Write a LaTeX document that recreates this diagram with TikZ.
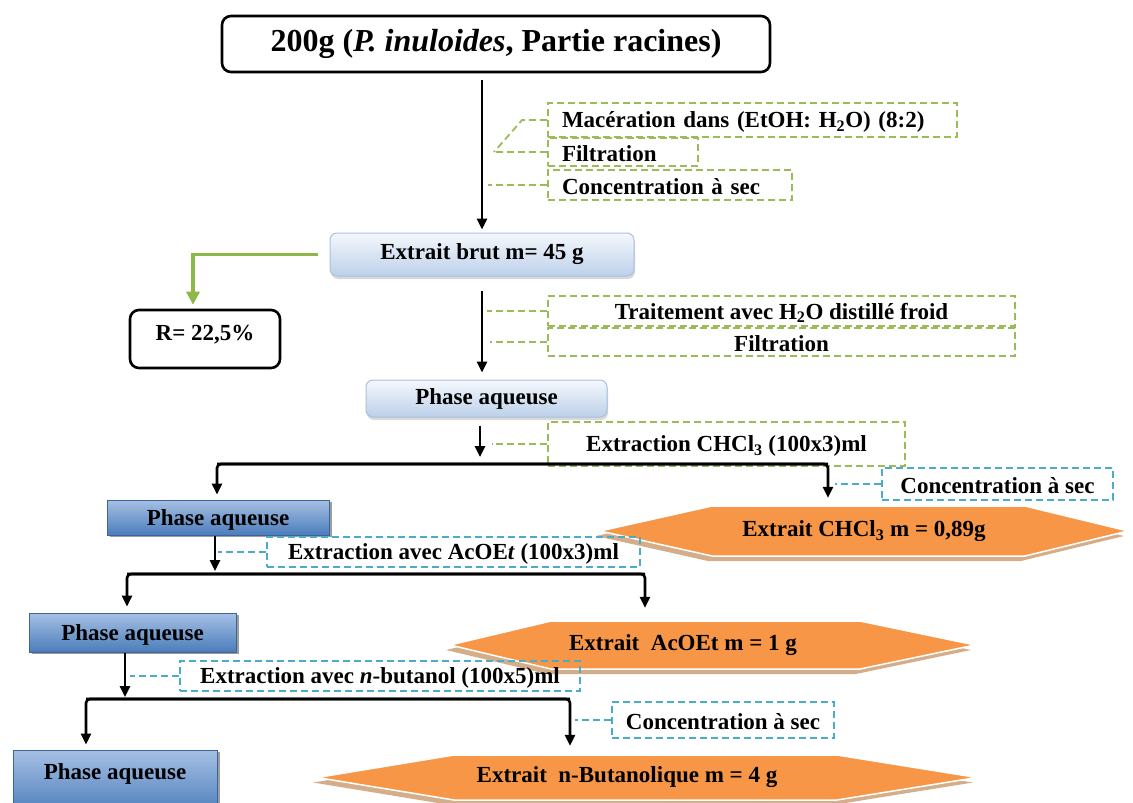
\documentclass[tikz,border=0pt]{standalone}
\usepackage{fontspec}
\setmainfont{Liberation Serif}
\usetikzlibrary{arrows.meta, positioning, shadows, calc}

\definecolor{accgreen}{HTML}{9BBB59}
\definecolor{accblue}{HTML}{4BACC6}
\definecolor{accorange}{HTML}{F79646}
\definecolor{hexshade}{HTML}{D4AE8A}
\definecolor{greenarrow}{HTML}{8DB749}
\definecolor{paleedge}{HTML}{A9C0DE}
\definecolor{paletop}{HTML}{F5F8FC}
\definecolor{palebot}{HTML}{BCD0EA}
\definecolor{deepedge}{HTML}{3B6499}
\definecolor{deeptop}{HTML}{A6C0E4}
\definecolor{deepbot}{HTML}{4B7DBB}

\newcommand{\lbl}{\fontsize{23}{25}\selectfont\bfseries}
\newcommand{\ttl}{\fontsize{32}{35}\selectfont\bfseries}
% hexagon: left tip, top left, top right, right tip, top y, height, style
\newcommand{\hexfill}[7]{\path[#7] (#1,{#5+#6/2}) -- (#2,#5) -- (#3,#5) -- (#4,{#5+#6/2}) -- (#3,{#5+#6}) -- (#2,{#5+#6}) -- cycle;}

\begin{document}
\begin{tikzpicture}[x=1pt, y=-1pt,
    arrow/.style={-{Triangle[length=11pt, width=10pt]}, line width=2.6pt},
    branch/.style={arrow, rounded corners=4pt},
    greenline/.style={-{Triangle[length=13pt, width=13pt]}, line width=3.5pt, draw=greenarrow},
    bigbox/.style={draw, line width=2.6pt, rounded corners=9pt, inner sep=0pt},
    palebox/.style={draw=paleedge, line width=1pt, rounded corners=7pt, top color=paletop, bottom color=palebot, font=\lbl, inner sep=0pt,
        drop shadow={shadow xshift=1pt, shadow yshift=-3pt, opacity=0.3}},
    deepbox/.style={draw=deepedge, line width=1pt, top color=deeptop, bottom color=deepbot, font=\lbl, inner sep=0pt, text height=21pt,
        drop shadow={shadow xshift=3pt, shadow yshift=-2pt, opacity=0.55, fill=black!70}},
    gnote/.style={draw=accgreen, line width=1.8pt, dash pattern=on 7pt off 4pt, font=\lbl, inner xsep=14pt, inner ysep=0pt, text height=20pt},
    bnote/.style={gnote, draw=accblue},
    gcall/.style={draw=accgreen, line width=1.8pt, dash pattern=on 7pt off 4pt},
    bcall/.style={gcall, draw=accblue},
    hexlbl/.style={font=\lbl, inner sep=0pt},
    hexbody/.style={fill=accorange, draw=white, line width=1.5pt},
    hexshadow/.style={fill=hexshade, shift={(-4,5)}}
]
\useasboundingbox (0,0) rectangle (1133,803);

% plant material and maceration
\node[bigbox, font=\ttl, minimum width=548pt, minimum height=56pt] (title) at (496,44) {200g (\textit{P. inuloides}, Partie racines)};
\node[gnote, text width=381pt, align=left, minimum height=34pt] (mac) at (752.5,120) {\mbox{Macération dans (EtOH: H\textsubscript{2}O) (8:2)}};
\node[gnote, text width=122pt, align=left, minimum height=28pt] (filt) at (623,152) {\mbox{Filtration}};
\node[gnote, text width=216pt, align=left, minimum height=30pt] (conc) at (670,185) {\mbox{Concentration à sec}};

\node[palebox, minimum width=304pt, minimum height=43pt] (brut) at (482,254.5) {Extrait brut m= 45 g};
\node[bigbox, font=\lbl, minimum width=150pt, minimum height=58pt, text depth=12pt] (ratio) at (205,339) {R= 22,5\%};

% water treatment
\node[gnote, minimum width=467pt, minimum height=30pt] (trait) at (781.5,311) {Traitement avec H\textsubscript{2}O distillé froid};
\node[gnote, minimum width=467pt, minimum height=28pt] (filtb) at (781.5,342) {Filtration};
\node[palebox, minimum width=241pt, minimum height=37pt] (aq1) at (486.5,398.5) {Phase aqueuse};

% liquid-liquid extractions
\node[gnote, minimum width=357pt, minimum height=44pt] (xchcl) at (726.5,444) {Extraction CHCl\textsubscript{3} (100x3)ml};
\node[bnote, minimum width=231pt, minimum height=32pt] (cchcl) at (997.5,484) {Concentration à sec};
\node[deepbox, minimum width=222pt, minimum height=35pt] (aq2) at (218,517.5) {Phase aqueuse};
\hexfill{600}{712}{1025}{1128}{506}{50}{hexshadow}
\hexfill{600}{712}{1025}{1128}{506}{50}{hexbody}
\node[hexlbl, minimum height=50pt] (hchcl) at (864,531) {Extrait CHCl\textsubscript{3} m = 0,89g};

\node[bnote, minimum width=373pt, minimum height=30pt] (xacoet) at (453.5,552) {Extraction avec AcOE\textit{t} (100x3)ml};
\node[deepbox, minimum width=207pt, minimum height=39pt] (aq3) at (132.5,632.5) {Phase aqueuse};
\hexfill{450}{551}{860}{975}{621}{48}{hexshadow}
\hexfill{450}{551}{860}{975}{621}{48}{hexbody}
\node[hexlbl, minimum height=48pt] (hacoet) at (683,645) {Extrait\ \ AcOEt m = 1 g};

\node[bnote, minimum width=400pt, minimum height=30pt] (xbut) at (380,676) {Extraction avec \textit{n}-butanol (100x5)ml};
\node[bnote, minimum width=210pt, minimum height=36pt] (cbut) at (723,720) {Concentration à sec};
\node[deepbox, minimum width=204pt, minimum height=65pt, text height=16pt, text depth=22pt] (aq4) at (115,782.5) {Phase aqueuse};
\hexfill{317}{454}{837}{977}{755}{45}{hexshadow}
\hexfill{317}{454}{837}{977}{755}{45}{hexbody}
\node[hexlbl, minimum height=45pt] (hbut) at (627,777.5) {Extrait\ \ n-Butanolique m = 4 g};

% branch points
\coordinate (b1) at (480,464);
\coordinate (b1l) at (217,464);
\coordinate (b1r) at (828,464);
\coordinate (b2) at (215,574);
\coordinate (b2l) at (127,574);
\coordinate (b2r) at (645,574);
\coordinate (b3) at (125,699);
\coordinate (b3l) at (86,699);
\coordinate (b3r) at (570,699);

% arrows
\draw[arrow, shorten <=7pt, shorten >=3pt] (brut.north |- title.south) -- (brut.north);
\draw[arrow, shorten <=14pt, shorten >=7pt] (brut.south) -- (brut.south |- aq1.north);
\draw[greenline, shorten >=4pt] ([xshift=-12pt]brut.west) -| ([xshift=-12pt]ratio.north);
\draw[arrow, shorten <=8pt] (b1 |- aq1.south) -- ([yshift=7pt]b1);
\draw[branch, shorten >=5pt] (b1r) -- (b1l) -- (b1l |- aq2.north);
\draw[branch, shorten >=8pt] (b1l) -- (b1r) -- (b1r |- hchcl.north);
\draw[arrow] (b2 |- aq2.south) -- ([yshift=3pt]b2);
\draw[branch, shorten >=6pt] (b2r) -- (b2l) -- (b2l |- aq3.north);
\draw[branch, shorten >=13pt] (b2l) -- (b2r) -- (b2r |- hacoet.north);
\draw[arrow] (b3 |- aq3.south) -- ([yshift=2pt]b3);
\draw[branch, shorten >=5pt] (b3r) -- (b3l) -- (b3l |- aq4.north);
\draw[branch, shorten >=9pt] (b3l) -- (b3r) -- (b3r |- hbut.north);

% callout lines
\draw[gcall] (mac.west) -- ([xshift=-25pt]mac.west) -- ([xshift=12pt]brut.north |- filt.west);
\draw[gcall] (filt.west) -- ([xshift=12pt]brut.north |- filt.west);
\draw[gcall] (conc.west) -- ([xshift=6pt]brut.north |- conc.west);
\draw[gcall] (trait.west) -- ([xshift=7pt]b1 |- trait.west);
\draw[gcall] (filtb.west) -- ([xshift=10pt]b1 |- filtb.west);
\draw[gcall] (xchcl.west) -- ([xshift=12pt]b1 |- xchcl.west);
\draw[bcall] (cchcl.west) -- ([xshift=7pt]b1r |- cchcl.west);
\draw[bcall] (xacoet.west) -- ([xshift=3pt]b2 |- xacoet.west);
\draw[bcall] (xbut.west) -- ([xshift=5pt]b3 |- xbut.west);
\draw[bcall] (cbut.west) -- ([xshift=5pt]b3r |- cbut.west);

\end{tikzpicture}
\end{document}
